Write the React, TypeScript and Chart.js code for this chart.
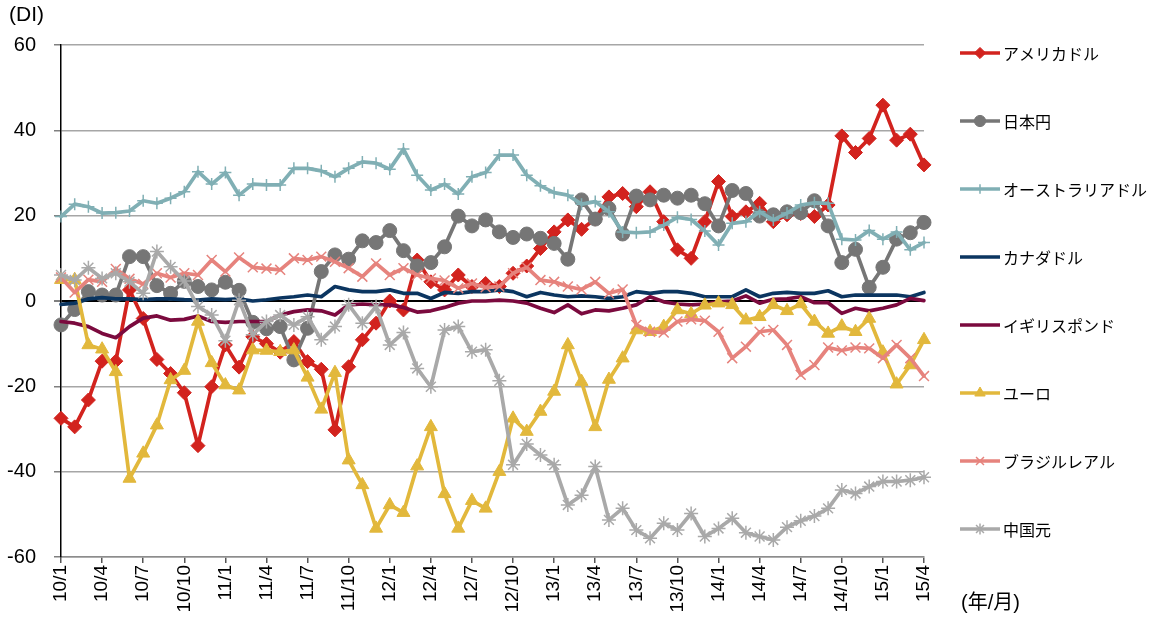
import React, { useEffect, useRef } from 'react';
import { Chart, registerables } from 'chart.js';
import { drawPoint } from 'chart.js/helpers';

Chart.register(...registerables);

const monthLabels = [
  '10/1','10/2','10/3','10/4','10/5','10/6','10/7','10/8','10/9','10/10','10/11','10/12',
  '11/1','11/2','11/3','11/4','11/5','11/6','11/7','11/8','11/9','11/10','11/11','11/12',
  '12/1','12/2','12/3','12/4','12/5','12/6','12/7','12/8','12/9','12/10','12/11','12/12',
  '13/1','13/2','13/3','13/4','13/5','13/6','13/7','13/8','13/9','13/10','13/11','13/12',
  '14/1','14/2','14/3','14/4','14/5','14/6','14/7','14/8','14/9','14/10','14/11','14/12',
  '15/1','15/2','15/3','15/4',
];

const seriesNames = ['アメリカドル','日本円','オーストラリアドル','カナダドル','イギリスポンド','ユーロ','ブラジルレアル','中国元'];

const usd = [-27.5,-29.5,-23.2,-14.1,-14.1,2.6,-4.1,-13.7,-17,-21.5,-33.9,-20.1,-10.3,-15.5,-8.4,-10,-12,-9.5,-14.2,-16,-30.2,-15.4,-9.1,-5.2,0,-2.1,9.6,4.5,2.6,6.1,3.4,4.1,3.4,6.5,8.2,12.3,16.2,19,16.8,19.2,24.4,25.2,22.1,25.6,18.6,12,10,18.6,28,19.8,20.9,22.9,18.6,20.2,20.5,19.8,22.5,38.7,34.8,38.1,45.9,37.7,39.1,31.9];
const jpy = [-5.6,-2,2.2,1.4,1.4,10.4,10.4,3.6,1.8,4.6,3.4,2.6,4.4,2.5,-5,-6.5,-6,-13.8,-6.4,6.9,10.8,9.8,14.1,13.7,16.5,11.8,8.2,9,12.7,19.9,17.6,19,16.2,14.9,15.7,14.7,13.5,9.8,23.7,19.2,21.7,15.7,24.6,23.7,24.8,24.1,24.8,22.8,17.6,25.9,25.2,19.9,20.2,20.9,20.7,23.5,17.6,9,12.1,3.2,7.9,14.5,16,18.4];
const aud = [19.8,22.7,22.1,20.6,20.7,21.1,23.5,22.9,24.1,25.6,30.3,27.4,30.1,24.8,27.4,27.2,27.2,31.1,31.1,30.5,29.1,31.1,32.6,32.3,30.9,35.6,29.5,26,27.4,25.1,29.1,30.1,34.2,34.2,29.5,27,25.4,24.8,22.7,23.3,20.9,16.2,16,16.2,17.8,19.6,19.1,16.4,13.1,18.2,18.6,20.9,19,20.6,22.5,23,22.9,14.5,14.3,16.5,14.5,16.2,12,13.7];
const cad = [-0.8,-0.5,0.5,0.8,0.5,0.5,0.3,0.5,0.5,0.3,0.2,0.5,0.3,0.5,0,0.3,0.7,1,1.4,1,3.4,2.6,2.2,2.2,2.6,1.8,1.8,0.6,2,1.8,2.2,2.2,2.6,2.2,1,2,1.4,1,1.2,1,0.6,1,2.2,1.8,2.2,2.2,1.8,1,1,1,2.6,1,1.8,2,1.8,1.8,2.4,1,1.4,1.4,1.4,1.4,1,2];
const gbp = [-4.8,-5.2,-6,-7.6,-8.6,-6,-4,-3.5,-4.5,-4.3,-3.5,-4.8,-5,-4.8,-4.8,-4.8,-3.3,-2.5,-2.1,-2.3,-3.3,-0.9,-0.7,-0.9,-0.9,-1.5,-2.6,-2.3,-1.5,-0.5,0,0,0.2,0,-0.5,-1.7,-2.7,-0.9,-3,-2.1,-2.3,-1.7,-0.9,1,-0.2,-0.7,-0.9,-0.7,-0.2,0,1.2,-0.5,0.4,0.5,1,-0.4,-0.4,-2.9,-1.7,-2.3,-1.7,-0.9,0.6,0.1];
const eur = [5,5,-10.3,-11.3,-16.6,-41.6,-35.7,-29.1,-18.5,-16.3,-4.8,-14.5,-19.7,-20.9,-11.5,-11.6,-11.9,-11.5,-17.9,-25.4,-16.8,-37.3,-43.1,-53.3,-47.8,-49.6,-38.7,-29.5,-45.2,-53.3,-46.8,-48.6,-40,-27.5,-30.6,-25.9,-21.2,-10.3,-18.9,-29.5,-18.4,-13.4,-6.8,-7.2,-6,-2.1,-3,-1,-0.5,-0.9,-4.5,-3.7,-0.9,-2.3,-0.7,-4.8,-7.6,-5.9,-7.2,-4.1,-12,-19.5,-15,-9.1];
const brl = [5.5,2,5,4.5,7.5,5.2,4,6.5,5.5,6.5,6.1,9.6,6.9,10.2,7.9,7.6,7.3,10,9.6,10.4,9.2,7.7,5.7,8.8,6.1,7.7,6.1,5.3,4.8,3,4.1,3.2,3.4,6.5,7.9,4.9,4.5,3.4,2.7,4.5,1.8,2.7,-5.6,-7.2,-7.4,-4.8,-4.3,-4.6,-7.2,-13.4,-10.7,-7.2,-6.8,-10.3,-17.3,-15,-10.9,-11.6,-10.9,-11.1,-13.4,-10.3,-13.4,-17.6];
const cny = [6.1,4.9,7.8,5.3,6.5,4.5,1.8,11.6,8,4.7,-1.3,-3.3,-9.3,0.2,-7.9,-4.8,-3.3,-5.6,-3.7,-9.1,-6,-0.9,-5.2,-1.3,-10.3,-7.4,-15.8,-20.1,-6.8,-6,-11.9,-11.4,-18.7,-38.4,-33.5,-36.1,-38.4,-47.8,-45.5,-38.8,-51.3,-48.6,-53.7,-55.6,-52.1,-53.7,-49.8,-55.2,-53.3,-50.9,-54.3,-55.2,-56,-53,-51.5,-50.4,-48.6,-44.3,-45.1,-43.5,-42.3,-42.3,-42,-41.3];

const seriesValues = [usd, jpy, aud, cad, gbp, eur, brl, cny];

const yMin = -60;
const yMax = 60;
const yStep = 20;

const seriesStyles = [
  { color: '#D2231E', pointStyle: 'rectRot', radius: 7, pointBorder: 1 },
  { color: '#767676', pointStyle: 'circle', radius: 7, pointBorder: 1 },
  { color: '#80AFB4', pointStyle: 'cross', radius: 6, pointBorder: 1.5 },
  { color: '#0B3560', pointStyle: 'circle', radius: 0, pointBorder: 0 },
  { color: '#7B0A3E', pointStyle: 'circle', radius: 0, pointBorder: 0 },
  { color: '#E2B83C', pointStyle: 'triangle', radius: 7.5, pointBorder: 1 },
  { color: '#E6837D', pointStyle: 'crossRot', radius: 7, pointBorder: 1.5 },
  { color: '#A9A9A9', pointStyle: 'star', radius: 7, pointBorder: 1.5 },
];

const numFont = '"Liberation Sans", Arial, sans-serif';
const jpFont = '"Noto Sans CJK JP", sans-serif';

const annotationsPlugin = {
  id: 'sideLegendAndTitles',
  afterDraw(chart: any) {
    const ctx = chart.ctx as CanvasRenderingContext2D;
    ctx.save();
    chart.data.datasets.forEach((ds: any, i: number) => {
      const y = 53 + 68 * i;
      ctx.strokeStyle = ds.borderColor;
      ctx.lineWidth = ds.borderWidth;
      ctx.lineCap = 'butt';
      ctx.beginPath();
      ctx.moveTo(960, y);
      ctx.lineTo(1000, y);
      ctx.stroke();
      if (ds.pointRadius > 0) {
        ctx.fillStyle = ds.pointBackgroundColor;
        ctx.strokeStyle = ds.pointBorderColor;
        ctx.lineWidth = ds.pointBorderWidth;
        drawPoint(ctx, { pointStyle: ds.pointStyle, radius: ds.pointRadius * 0.8, rotation: 0, borderWidth: ds.pointBorderWidth } as any, 980, y);
      }
      ctx.fillStyle = '#000';
      ctx.font = `16px ${jpFont}`;
      ctx.textBaseline = 'middle';
      ctx.textAlign = 'left';
      ctx.fillText(ds.label, 1003, y + 1);
    });
    ctx.fillStyle = '#000';
    ctx.textBaseline = 'middle';
    ctx.textAlign = 'left';
    ctx.font = `21px ${numFont}`;
    ctx.fillText('(DI)', 9, 15);
    ctx.font = `20px "Liberation Sans", "Noto Sans CJK JP", sans-serif`;
    ctx.fillText('(年/月)', 961, 603);
    ctx.restore();
  },
};

export default function App() {
  const ref = useRef<HTMLCanvasElement>(null);
  useEffect(() => {
    const datasets = seriesValues.map((vals, i) => {
      const s = seriesStyles[i];
      return {
        label: seriesNames[i],
        data: vals,
        borderColor: s.color,
        backgroundColor: s.color,
        borderWidth: 3.7,
        pointStyle: s.pointStyle,
        pointRadius: s.radius,
        pointHoverRadius: s.radius,
        pointBackgroundColor: s.color,
        pointBorderColor: s.color,
        pointBorderWidth: s.pointBorder,
        borderJoinStyle: 'round',
        borderCapStyle: 'round',
        tension: 0,
        fill: false,
        order: seriesValues.length - 1 - i,
      };
    });
    const chart = new Chart(ref.current as HTMLCanvasElement, {
      type: 'line',
      data: { labels: monthLabels, datasets: datasets as any },
      options: {
        animation: false,
        responsive: true,
        maintainAspectRatio: false,
        devicePixelRatio: 1,
        layout: { padding: { top: 45, right: 232, left: 0, bottom: 0 } },
        plugins: {
          legend: { display: false },
          tooltip: { enabled: false },
          title: { display: false },
        },
        scales: {
          x: {
            type: 'category',
            offset: false,
            grid: {
              display: true,
              drawOnChartArea: false,
              drawTicks: true,
              tickLength: 6,
              tickColor: '#555555',
              lineWidth: 1.5,
            },
            border: { display: true, color: '#8C8C8C', width: 1.5 },
            ticks: {
              autoSkip: false,
              maxRotation: 90,
              minRotation: 90,
              padding: 2,
              color: '#000',
              font: { family: numFont, size: 19 },
              callback: (_v: any, i: number) => (i % 3 === 0 ? monthLabels[i] : null),
            },
            afterFit: (s: any) => { s.height = 60; },
          },
          y: {
            min: yMin,
            max: yMax,
            grid: {
              color: (c: any) => (c.tick && c.tick.value === 0 ? '#000000' : '#A6A6A6'),
              lineWidth: (c: any) => (c.tick && c.tick.value === 0 ? 2 : 1.5),
              drawTicks: true,
              tickLength: 7,
              tickColor: '#7F7F7F',
            },
            border: { display: true, color: '#000', width: 1.5 },
            ticks: {
              stepSize: yStep,
              padding: 18,
              color: '#000',
              font: { family: numFont, size: 20 },
            },
            afterFit: (s: any) => { s.width = 61; },
          },
        },
      },
      plugins: [annotationsPlugin],
    });
    return () => chart.destroy();
  }, []);
  return (
    <div style={{ position: 'fixed', left: 0, top: 0, width: 1156, height: 617 }}>
      <canvas ref={ref} />
    </div>
  );
}
